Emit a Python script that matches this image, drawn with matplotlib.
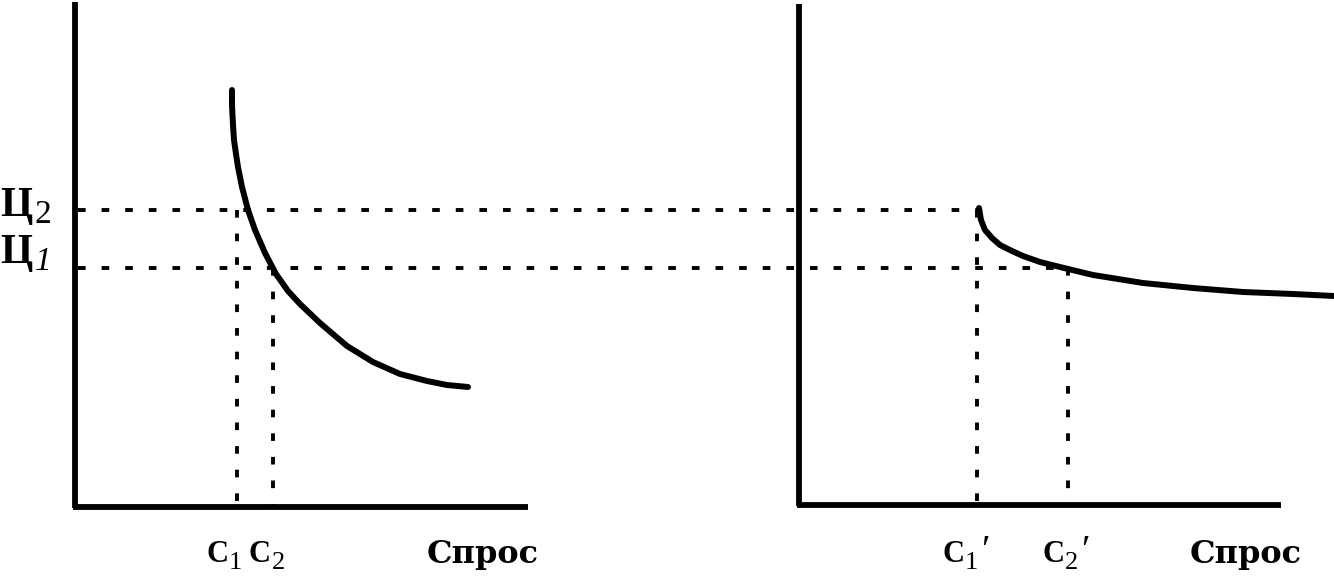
import matplotlib.pyplot as plt

plt.rcParams['lines.scale_dashes'] = False

# coordinates in picture units (x to the right, y downward)
left_curve_x = [232, 232, 233, 234, 236, 238, 242, 248, 255, 265, 276, 288, 300, 320, 347, 373, 400, 427, 447, 468]
left_curve_y = [90, 105, 125, 140, 154, 167, 187, 210, 230, 253, 274, 291, 304, 323, 346, 362, 374, 381, 385, 387]
right_curve_x = [979, 981, 985, 992, 1000, 1012, 1023, 1040, 1060, 1093, 1143, 1193, 1243, 1293, 1334]
right_curve_y = [208, 220, 230, 238, 245, 251, 256, 262, 267, 275, 283, 288, 292, 294, 296]

price_levels = [210, 268]          # Ц2, Ц1
price_ends = [980, 1068]
left_q = [237, 273]                # C1, C2
right_q = [977, 1068]              # C1', C2'

fig = plt.figure(figsize=(13.34, 5.84), dpi=100)
ax = fig.add_axes([0, 0, 1, 1])
ax.set_xlim(0, 1334)
ax.set_ylim(584, 0)
ax.axis('off')

K = 'black'
AX_LW = 4.2
CURVE_LW = 4.3
DOT = dict(color=K, lw=2.8, dashes=(5.5, 11.5))

# axes of both panels
ax.plot([75, 75], [2, 508], color=K, lw=AX_LW, solid_capstyle='butt')
ax.plot([73, 528], [507, 507], color=K, lw=AX_LW, solid_capstyle='butt')
ax.plot([799, 799], [4, 506], color=K, lw=AX_LW, solid_capstyle='butt')
ax.plot([797, 1281], [505, 505], color=K, lw=AX_LW, solid_capstyle='butt')

# dotted guide lines
for p, xe in zip(price_levels, price_ends):
    ax.plot([78, xe], [p, p], **DOT)
for q, p in zip(left_q, price_levels):
    ax.plot([q, q], [p, 505], **DOT)
for q, p in zip(right_q, price_levels):
    ax.plot([q, q], [p, 503], **DOT)

# demand curves
ax.plot(left_curve_x, left_curve_y, color=K, lw=CURVE_LW, solid_capstyle='round',
        solid_joinstyle='round')
ax.plot(right_curve_x, right_curve_y, color=K, lw=CURVE_LW, solid_capstyle='round',
        solid_joinstyle='round')

SERIF = 'Liberation Serif'
# price labels
ax.text(0, 216, 'Ц', fontsize=30, family=SERIF, weight='bold', va='baseline', ha='left')
ax.text(34, 223, '2', fontsize=24, family=SERIF, va='baseline', ha='left')
ax.text(0, 263, 'Ц', fontsize=30, family=SERIF, weight='bold', va='baseline', ha='left')
ax.text(35, 270, '1', fontsize=24, family=SERIF, style='italic', va='baseline', ha='left')

# quantity labels
def qlabel(x, sub, prime=False):
    ax.text(x, 562, 'C', fontsize=22, family=SERIF, weight='bold', va='baseline', ha='left')
    ax.text(x + 23, 569, sub, fontsize=19, family=SERIF, va='baseline', ha='left')
    if prime:
        ax.text(x + 39, 562, '′', fontsize=28, family=SERIF, va='baseline', ha='left')

qlabel(206, '1')
qlabel(249, '2')
qlabel(942, '1', prime=True)
qlabel(1042, '2', prime=True)

ax.text(483, 563, 'Спрос', fontsize=23, family='DejaVu Serif', weight='bold',
        va='baseline', ha='center')
ax.text(1246, 563, 'Спрос', fontsize=23, family='DejaVu Serif', weight='bold',
        va='baseline', ha='center')

fig.savefig('out.png', dpi=100)
